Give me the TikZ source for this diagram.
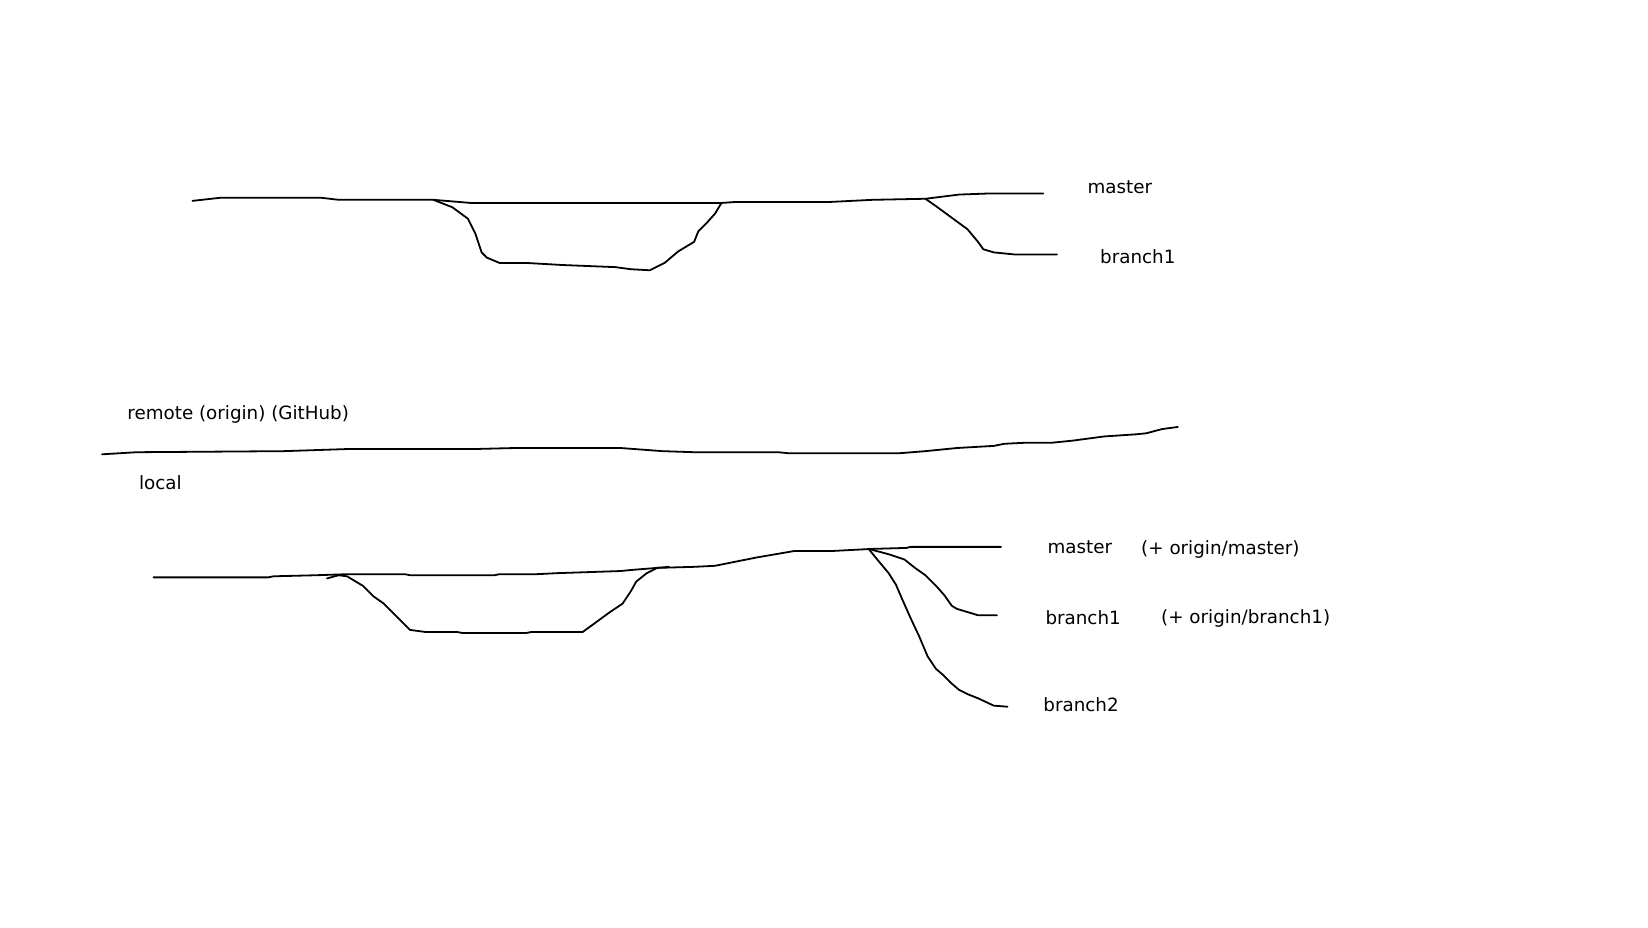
\documentclass[tikz,border=0pt]{standalone}
\usepackage{fontspec}
\setmainfont{DejaVu Sans}
\begin{document}
\begin{tikzpicture}[x=1.0516pt,y=-1.0516pt,
  stroke/.style={line width=1.8pt,line join=round,line cap=round},
  lbl/.style={anchor=west,inner sep=0pt,font=\fontsize{18.3}{20}\selectfont}]
\useasboundingbox[fill=white] (0,0) rectangle (1567.1,881.5);
% top: master
\draw[stroke] (183,191) -- (210,188) -- (255,188) -- (305,188) -- (322,190) -- (412,190) -- (448,193) -- (686,193) -- (700,192) -- (790,192) -- (830,190) -- (880,189) -- (912,185) -- (940,184) -- (992,184);
% top: merged branch loop
\draw[stroke] (412,190) -- (430,197) -- (445,208) -- (452,222) -- (458,240) -- (463,245) -- (475,250) -- (500,250) -- (535,252) -- (585,254) -- (600,256) -- (618,257) -- (632,250) -- (645,239) -- (660,230) -- (664,220) -- (672,212) -- (680,203) -- (686,193);
% top: branch1
\draw[stroke] (880,189) -- (890,196) -- (905,207) -- (920,218) -- (930,230) -- (935,237) -- (945,240) -- (965,242) -- (1005,242);
\node[lbl] (tmaster) at (1034,178) {master};
\node[lbl] (tbranch) at (1046,244) {branch1};
% separator
\draw[stroke] (97,432) -- (130,430) -- (270,429) -- (330,427) -- (450,427) -- (490,426) -- (590,426) -- (630,429) -- (660,430) -- (740,430) -- (750,431) -- (855,431) -- (880,429) -- (910,426) -- (945,424) -- (955,422) -- (975,421) -- (1000,421) -- (1020,419) -- (1050,415) -- (1080,413) -- (1090,412) -- (1105,408) -- (1120,406);
\node[lbl] (remote) at (121,394) {remote (origin) (GitHub)};
\node[lbl] (local) at (132,459) {local};
% bottom: master
\draw[stroke] (146,549) -- (255,549) -- (260,548) -- (300,547) -- (330,546) -- (385,546) -- (390,547) -- (470,547) -- (475,546) -- (510,546) -- (530,545) -- (560,544) -- (590,543) -- (600,542) -- (625,540) -- (660,539) -- (680,538) -- (690,536) -- (720,530) -- (755,524) -- (790,524) -- (828,522) -- (862,521) -- (866,520) -- (952,520);
% bottom: merged branch loop
\draw[stroke] (311,550) -- (322,547) -- (330,548) -- (345,557) -- (355,567) -- (365,574) -- (385,594) -- (390,599) -- (405,601) -- (435,601) -- (440,602) -- (500,602) -- (505,601) -- (554,601) -- (565,593) -- (580,582) -- (592,574) -- (600,562) -- (605,553) -- (615,545) -- (625,540) -- (636,539);
% bottom: branch1
\draw[stroke] (826,522) -- (845,527) -- (860,532) -- (870,540) -- (880,547) -- (890,557) -- (898,566) -- (905,576) -- (910,579) -- (920,582) -- (930,585) -- (948,585);
% bottom: branch2
\draw[stroke] (826,522) -- (835,533) -- (845,545) -- (852,556) -- (858,570) -- (866,588) -- (874,605) -- (882,624) -- (890,636) -- (897,642) -- (905,650) -- (912,656) -- (920,660) -- (930,664) -- (945,671) -- (958,672);
\node[lbl] (bmaster) at (996,520) {master};
\node[lbl] (omaster) at (1085,522) {(+ origin/master)};
\node[lbl] (bbranch1) at (994,587) {branch1};
\node[lbl] (obranch1) at (1104,588) {(+ origin/branch1)};
\node[lbl] (bbranch2) at (992,670) {branch2};
\end{tikzpicture}
\end{document}
